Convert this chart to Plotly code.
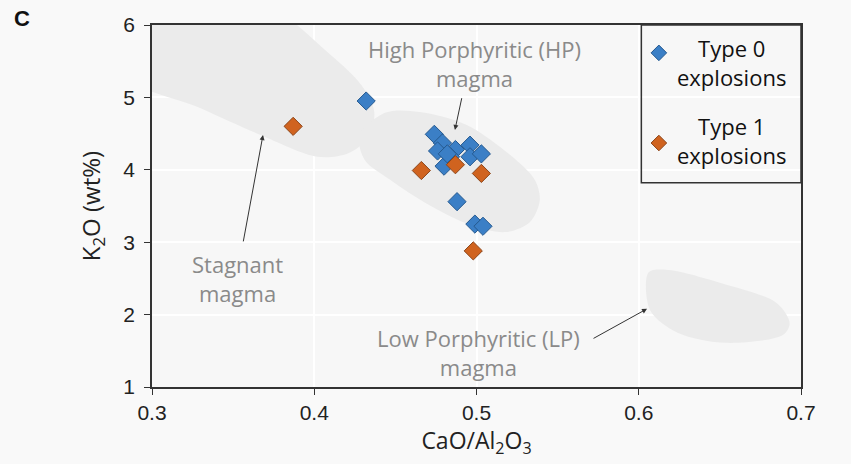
import plotly.graph_objects as go

# ---- data ----
type0_x = [0.432, 0.474, 0.479, 0.476, 0.487, 0.484, 0.480, 0.496, 0.496, 0.503, 0.488, 0.499, 0.504, 0.482]
type0_y = [4.95, 4.49, 4.37, 4.26, 4.28, 4.18, 4.05, 4.34, 4.18, 4.22, 3.56, 3.25, 3.22, 4.22]
type1_x = [0.387, 0.466, 0.487, 0.503, 0.498]
type1_y = [4.60, 3.99, 4.07, 3.95, 2.88]

# background field outlines (CaO/Al2O3, K2O)
stag_x = [0.280, 0.364, 0.410, 0.429, 0.437, 0.433, 0.421, 0.402, 0.367, 0.330, 0.280]
stag_y = [6.35, 6.35, 5.59, 5.17, 4.80, 4.44, 4.23, 4.18, 4.48, 4.85, 5.35]
hp_x = [0.428, 0.444, 0.465, 0.494, 0.521, 0.536, 0.539, 0.533, 0.518, 0.496, 0.471, 0.447, 0.431]
hp_y = [4.48, 4.79, 4.80, 4.62, 4.20, 3.86, 3.58, 3.28, 3.14, 3.24, 3.51, 3.86, 4.14]
lp_x = [0.606, 0.617, 0.650, 0.685, 0.693, 0.689, 0.654, 0.624, 0.607]
lp_y = [2.58, 2.62, 2.44, 2.16, 1.88, 1.72, 1.61, 1.75, 2.06]

x_ticks = [0.3, 0.4, 0.5, 0.6, 0.7]
x_ticklabels = ["0.3", "0.4", "0.5", "0.6", "0.7"]
y_ticks = [1, 2, 3, 4, 5, 6]

series_names = ["Type 0<br>explosions", "Type 1<br>explosions"]

BLOB = "#ebebeb"
BLUE = "#3b7fc6"
ORANGE = "#d0631f"
BLUE_EDGE = "#25598f"
ORANGE_EDGE = "#8c4519"
TXT = "#8a8a8a"
LBL_FONT = "Open Sans"

fig = go.Figure()
for bx, by in [(stag_x, stag_y), (hp_x, hp_y), (lp_x, lp_y)]:
    fig.add_trace(go.Scatter(x=bx + bx[:1], y=by + by[:1], mode="lines", fill="toself",
                             line=dict(shape="spline", smoothing=0.9, color=BLOB, width=0),
                             fillcolor=BLOB, hoverinfo="skip", showlegend=False))

fig.add_trace(go.Scatter(x=type0_x, y=type0_y, mode="markers", name="Type 0 explosions",
                         marker=dict(symbol="diamond", size=14, color=BLUE,
                                     line=dict(color=BLUE_EDGE, width=1)),
                         showlegend=False))
fig.add_trace(go.Scatter(x=type1_x, y=type1_y, mode="markers", name="Type 1 explosions",
                         marker=dict(symbol="diamond", size=14, color=ORANGE,
                                     line=dict(color=ORANGE_EDGE, width=1)),
                         showlegend=False))

# legend keys on an overlay axis (0..1 over the plot area)
fig.add_trace(go.Scatter(x=[0.781, 0.781], y=[0.923, 0.674], mode="markers", xaxis="x2", yaxis="y2",
                         marker=dict(symbol="diamond", size=12, color=[BLUE, ORANGE],
                                     line=dict(color=[BLUE_EDGE, ORANGE_EDGE], width=1)),
                         hoverinfo="skip", showlegend=False))

lbl = dict(family=LBL_FONT, size=22, color=TXT)
annotations = [
    dict(x=0.499, y=5.47, xref="x", yref="y", text="High Porphyritic (HP)<br>magma", showarrow=False,
         font=lbl, align="center", xanchor="center", yanchor="middle"),
    dict(x=0.353, y=2.50, xref="x", yref="y", text="Stagnant<br>magma", showarrow=False,
         font=lbl, align="center", xanchor="center", yanchor="middle"),
    dict(x=0.501, y=1.47, xref="x", yref="y", text="Low Porphyritic (LP)<br>magma", showarrow=False,
         font=lbl, align="center", xanchor="center", yanchor="middle"),
    # arrows
    dict(x=0.4867, y=4.55, ax=0.4911, ay=5.01, xref="x", yref="y", axref="x", ayref="y", text="",
         showarrow=True, arrowhead=2, arrowsize=1, arrowwidth=1, arrowcolor="#333"),
    dict(x=0.3684, y=4.48, ax=0.3561, ay=2.99, xref="x", yref="y", axref="x", ayref="y", text="",
         showarrow=True, arrowhead=2, arrowsize=1, arrowwidth=1, arrowcolor="#333"),
    dict(x=0.6051, y=2.08, ax=0.5712, ay=1.66, xref="x", yref="y", axref="x", ayref="y", text="",
         showarrow=True, arrowhead=2, arrowsize=1, arrowwidth=1, arrowcolor="#333"),
    # legend texts
    dict(x=0.893, y=0.896, xref="paper", yref="paper", text=series_names[0], showarrow=False,
         font=dict(family=LBL_FONT, size=22, color="#111"), align="center", xanchor="center", yanchor="middle"),
    dict(x=0.893, y=0.680, xref="paper", yref="paper", text=series_names[1], showarrow=False,
         font=dict(family=LBL_FONT, size=22, color="#111"), align="center", xanchor="center", yanchor="middle"),
    # panel letter
    dict(x=-0.2157, y=1.019, xref="paper", yref="paper", text="<b>C</b>", showarrow=False,
         font=dict(family="Liberation Sans", size=22, color="#111"), xanchor="left", yanchor="middle"),
]

fig.update_layout(
    width=851, height=464,
    margin=dict(l=152, r=50, t=25, b=77),
    paper_bgcolor="#f9f9f9", plot_bgcolor="#f7f7f7",
    font=dict(family="Liberation Sans", size=21, color="#222"),
    xaxis=dict(range=[0.3, 0.7], tickvals=x_ticks, ticktext=x_ticklabels, showgrid=True,
               gridcolor="#ffffff", gridwidth=2, zeroline=False, showline=True, linecolor="#333",
               linewidth=1.5, mirror=True, ticks="outside", ticklen=6, tickcolor="#333",
               title=dict(text="CaO/Al<sub>2</sub>O<sub>3</sub>", font=dict(family=LBL_FONT, size=23, color="#222"),
                          standoff=8)),
    yaxis=dict(range=[1, 6], tickvals=y_ticks, showgrid=True, gridcolor="#ffffff", gridwidth=2,
               zeroline=False, showline=True, linecolor="#333", linewidth=1.5, mirror=True,
               ticks="outside", ticklen=6, tickcolor="#333", ticklabelstandoff=5,
               title=dict(text="K<sub>2</sub>O (wt%)", font=dict(family=LBL_FONT, size=24, color="#222"),
                          standoff=16)),
    xaxis2=dict(range=[0, 1], overlaying="x", visible=False),
    yaxis2=dict(range=[0, 1], overlaying="y", visible=False),
    shapes=[dict(type="rect", xref="paper", yref="paper", x0=0.754, x1=1.0, y0=0.564, y1=1.0,
                 line=dict(color="#333", width=1.5), fillcolor="rgba(255,255,255,0)")],
    annotations=annotations,
    showlegend=False,
)

fig.write_html("out.html", config={"displayModeBar": False},
               post_script="document.body.style.margin='0';")
